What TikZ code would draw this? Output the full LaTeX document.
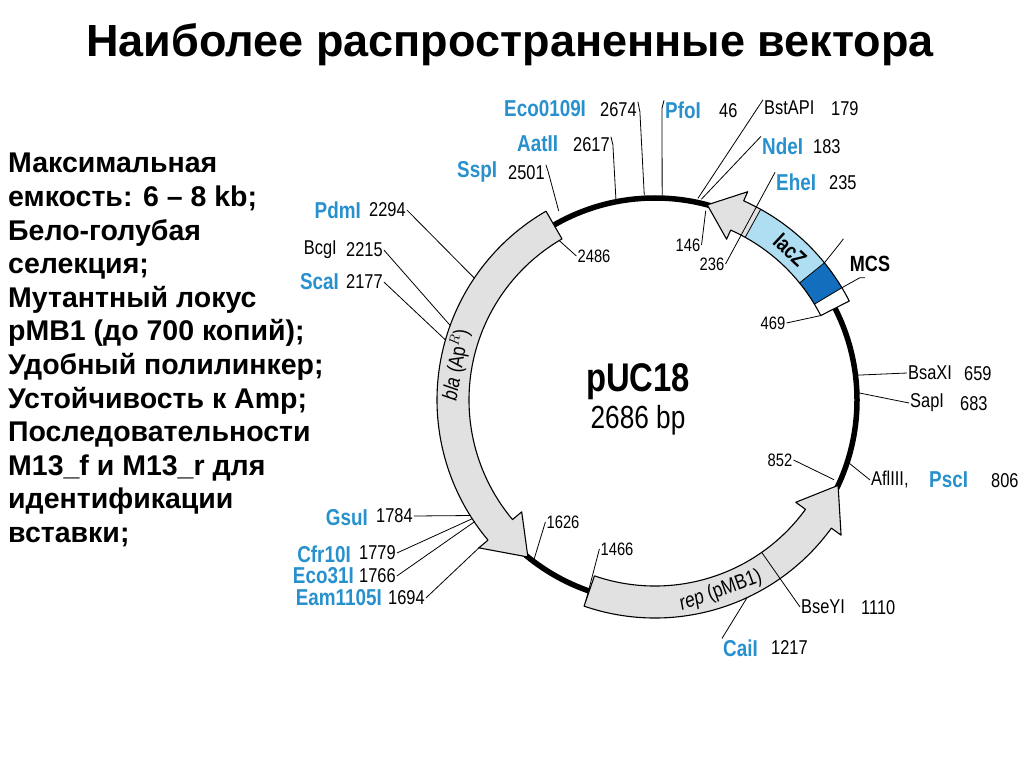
\documentclass[tikz,border=0pt]{standalone}
\usepackage{fontspec}
\setmainfont{Liberation Sans}
\newfontfamily\narrowfont[FakeStretch=0.82]{Liberation Sans}
\usetikzlibrary{calc}
\definecolor{siteblue}{RGB}{40,145,205}
\definecolor{lacblue}{RGB}{175,222,242}
\definecolor{mcsblue}{RGB}{20,110,190}
\definecolor{genegray}{RGB}{225,225,225}
\begin{document}
\begin{tikzpicture}[x=1pt,y=-1pt,
  lab/.style={inner sep=1pt,font=\narrowfont\fontsize{20}{20}\selectfont},
  bl/.style={lab,text=siteblue,font=\narrowfont\bfseries\fontsize{23}{23}\selectfont},
  num/.style={lab},
  sm/.style={inner sep=1pt,font=\narrowfont\fontsize{18}{18}\selectfont},
  ln/.style={line width=0.8pt},
  glab/.style={font=\narrowfont\fontsize{21}{21}\selectfont},
  gene/.style={fill=genegray,draw=black,line width=1.1pt,line join=round},
  lt/.style={align=left,anchor=north west,font=\bfseries\fontsize{28.5}{33.6}\selectfont}]
\useasboundingbox (0,0) rectangle (1024,767);
\node (title) at (510,45) {\bfseries\fontsize{45}{45}\selectfont Наиболее распространенные вектора};
\node[lt,inner sep=0pt] (left) at (8,153) {Максимальная\\емкость: 6 – 8 kb;\\Бело-голубая\\селекция;\\Мутантный локус\\pMB1 (до 700 копий);\\Удобный полилинкер;\\Устойчивость к Amp;\\Последовательности\\M13\_f  и M13\_r для\\идентификации\\вставки;};

\begin{scope}[shift={(655,400)},yscale=-1]
\draw[line width=5.5pt] (0,0) circle (202);
% bla
\draw[gene] (120:218) arc (120:220:218) -- (220:230) -- (231:202) -- (220:174) -- (220:186) arc (220:120:186) -- cycle;
% rep
\draw[gene] (251:218) arc (251:324:218) -- (324:230) -- (335:202) -- (324:174) -- (324:186) arc (324:251:186) -- cycle;
% lacZ
\fill[genegray] (27:218) arc (27:66:218) -- (66:228) -- (75:202) -- (66:176) -- (66:186) arc (66:27:186) -- cycle;
\fill[white] (27:218) arc (27:31:218) -- (31:186) arc (31:27:186) -- cycle;
\fill[mcsblue] (31:218) arc (31:39:218) -- (39:186) arc (39:31:186) -- cycle;
\fill[lacblue] (39:218) arc (39:61:218) -- (61:186) arc (61:39:186) -- cycle;
\draw[gene,fill=none] (27:218) arc (27:66:218) -- (66:228) -- (75:202) -- (66:176) -- (66:186) arc (66:27:186) -- cycle;
\draw[ln] (31:186) -- (31:218) (39:186) -- (39:218) (61:186) -- (61:218);
\node[rotate=-43,font=\narrowfont\bfseries\fontsize{22}{22}\selectfont] (lacz) at (48:202) {lacZ};
\node[rotate=80,glab] (bla) at (170:202) {\textit{bla} (Ap$^{R}$)};
\node[rotate=20,glab] (rep) at (289:202) {\textit{rep} (pMB1)};
\foreach \n/\a/\r in {eco/93/205,aat/101/205,ssp/117/212,pfo/88/205,bst/78/206,nde/77/206,
  p146/75/196,p236/64/186,p469/27/186,mcsa/39/218,mcsb/31/218,
  bsa/7/204,sap/2/204,p852/336/196,afl/342/204,bse/305/186,cai/295/218,
  eam/220/229,eco31/214/218,cfr/213/218,gsu/212/218,p1626/233/202,p1466/251/212,
  sca/164/218,bcg/160/218,pdm/146/218,p2486/121/186}
  {\coordinate (\n) at (\a:\r);}
\end{scope}

\node[bl,anchor=west] (ecoN) at (503,109) {Eco0109I};
\node[num,anchor=west] (ecoV) at (599,110) {2674};
\node[bl,anchor=west] (aatN) at (516,144) {AatII};
\node[num,anchor=west] (aatV) at (572,145) {2617};
\node[bl,anchor=west] (sspN) at (456,172) {SspI};
\node[num,anchor=west] (sspV) at (507,173) {2501};
\node[bl,anchor=west] (pfoN) at (664,110) {PfoI};
\node[num,anchor=west] (pfoV) at (718,111) {46};
\node[lab,anchor=west] (bstN) at (763,108) {BstAPI};
\node[num,anchor=west] (bstV) at (830,109) {179};
\node[bl,anchor=west] (ndeN) at (761,146) {NdeI};
\node[num,anchor=west] (ndeV) at (812,147) {183};
\node[bl,anchor=west] (eheN) at (775,182) {EheI};
\node[num,anchor=west] (eheV) at (828,183) {235};
\node[sm] (l146) at (688,245) {146};
\node[sm] (l236) at (712,264) {236};
\node[font=\narrowfont\bfseries\fontsize{22}{22}\selectfont] (mcs) at (870,264) {MCS};
\node[sm] (l469) at (773,323) {469};
\node[lab,anchor=west] (bsaN) at (907,373) {BsaXI};
\node[num,anchor=west] (bsaV) at (963,374) {659};
\node[lab,anchor=west] (sapN) at (909,403) {SapI};
\node[num,anchor=west] (sapV) at (959,404) {683};
\node[sm] (l852) at (780,460) {852};
\node[lab,anchor=west] (aflN) at (870,480) {AflIII,};
\node[bl,anchor=west] (pscN) at (928,480) {PscI};
\node[num,anchor=west] (pscV) at (990,481) {806};
\node[lab,anchor=west] (bseN) at (800,607) {BseYI};
\node[num,anchor=west] (bseV) at (860,608) {1110};
\node[bl,anchor=west] (caiN) at (722,648) {CaiI};
\node[num,anchor=west] (caiV) at (770,648) {1217};
\node[bl,anchor=east] (eamN) at (383,598) {Eam1105I};
\node[num,anchor=west] (eamV) at (387,598) {1694};
\node[bl,anchor=east] (eco31N) at (355,576) {Eco31I};
\node[num,anchor=west] (eco31V) at (358,576) {1766};
\node[bl,anchor=east] (cfrN) at (352,554) {Cfr10I};
\node[num,anchor=west] (cfrV) at (358,553) {1779};
\node[bl,anchor=east] (gsuN) at (369,518) {GsuI};
\node[num,anchor=west] (gsuV) at (375,516) {1784};
\node[sm] (l1626) at (563,522) {1626};
\node[sm] (l1466) at (617,549) {1466};
\node[bl,anchor=east] (scaN) at (340,282) {ScaI};
\node[num,anchor=west] (scaV) at (345,282) {2177};
\node[lab,anchor=east] (bcgN) at (338,250) {BcgI};
\node[num,anchor=west] (bcgV) at (345,250) {2215};
\node[bl,anchor=east] (pdmN) at (362,210) {PdmI};
\node[num,anchor=west] (pdmV) at (368,210) {2294};
\node[sm] (l2486) at (594,256) {2486};

\node[font=\narrowfont\bfseries\fontsize{40}{40}\selectfont] (puc) at (638,382) {pUC18};
\node[font=\narrowfont\fontsize{32}{32}\selectfont] (bp) at (638,420) {2686 bp};

\draw[ln] (ecoV.north east) -- ++(2,10) -- (eco);
\draw[ln] (aatV.north east) -- ++(2,8) -- (aat);
\draw[ln] (sspV.north east) -- ++(2,6) -- (ssp);
\draw[ln] (pfoN.north west) -- ++(-2,8) -- (pfo);
\draw[ln] (bstN.north west) -- (bst);
\draw[ln] (ndeN.north west) -- (nde);
\draw[ln] (eheN.north west) -- (l236.east);
\draw[ln] (l146.east) -- (p146);
\draw[ln] (l469.east) -- (p469);
\draw[ln] (mcsa) -- ++(16,-20) -- ++(3,-4);
\draw[ln] (mcsb) -- ++(18,-10) -- ++(5,0);
\draw[ln] (bsaN.west) -- (bsa);
\draw[ln] (sapN.west) -- (sap);
\draw[ln] (l852.east) -- (p852);
\draw[ln] (aflN.west) -- (afl);
\draw[ln] (bseN.west) -- (bse);
\draw[ln] (caiN.north west) -- (cai);
\draw[ln] (eamV.east) -- (eam);
\draw[ln] (eco31V.east) -- (eco31);
\draw[ln] (cfrV.east) -- (cfr);
\draw[ln] (gsuV.east) -- (gsu);
\draw[ln] (l1626.west) -- (p1626);
\draw[ln] (l1466.west) -- (p1466);
\draw[ln] (scaV.east) -- (sca);
\draw[ln] (bcgV.east) -- (bcg);
\draw[ln] (pdmV.east) -- (pdm);
\draw[ln] (l2486.west) -- (p2486);
\end{tikzpicture}
\end{document}
